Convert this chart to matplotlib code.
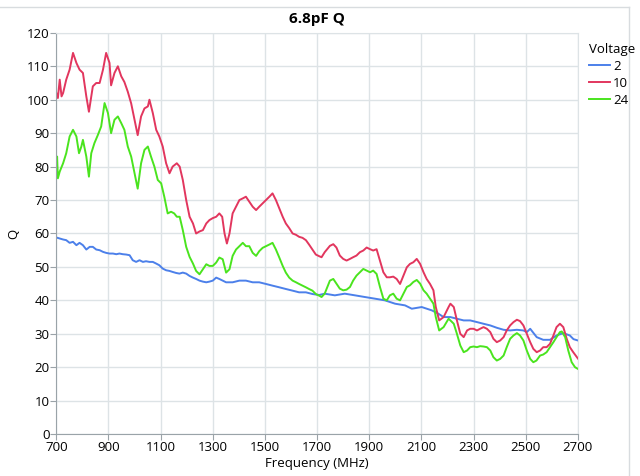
import matplotlib.pyplot as plt
from matplotlib.lines import Line2D

# frequency (MHz) / Q values
freq_2 = [700, 713, 726, 738, 751, 764, 777, 789, 802, 815, 828, 840, 853, 866, 879,
          891, 904, 917, 930, 942, 955, 968, 981, 993, 1006, 1019, 1032, 1044, 1057,
          1070, 1083, 1095, 1108, 1121, 1134, 1146, 1159, 1172, 1185, 1198, 1211,
          1224, 1236, 1249, 1262, 1275, 1287, 1300, 1313, 1325, 1351, 1376, 1402,
          1427, 1453, 1478, 1504, 1529, 1555, 1580, 1606, 1631, 1657, 1682, 1708,
          1729, 1768, 1806, 1845, 1883, 1922, 1960, 1999, 2037, 2063, 2101, 2140,
          2165, 2185, 2211, 2236, 2262, 2287, 2313, 2338, 2364, 2389, 2415, 2440,
          2466, 2491, 2504, 2517, 2542, 2567, 2593, 2618, 2644, 2669, 2683, 2700]
q_2 = [58.8, 58.5, 58.2, 58.0, 57.2, 57.5, 56.5, 57.2, 56.5, 55.2, 56.0, 56.0, 55.2,
       55.0, 54.5, 54.2, 54.0, 54.0, 53.8, 54.0, 53.8, 53.7, 53.5, 52.0, 51.5, 52.0,
       51.5, 51.7, 51.5, 51.5, 51.0, 50.5, 49.5, 49.0, 48.8, 48.5, 48.2, 48.0, 48.3,
       48.0, 47.3, 46.8, 46.4, 45.9, 45.6, 45.4, 45.6, 45.9, 46.8, 46.4, 45.4, 45.4,
       45.9, 45.9, 45.4, 45.4, 44.9, 44.4, 43.9, 43.4, 42.9, 42.4, 42.4, 41.9, 41.6,
       42.0, 41.5, 42.0, 41.5, 41.0, 40.5, 40.0, 39.0, 38.5, 37.5, 38.0, 37.0, 36.0,
       35.0, 35.0, 34.5, 34.0, 34.0, 33.5, 33.0, 32.5, 31.8, 31.2, 31.0, 31.2, 31.0,
       30.5, 31.5, 29.0, 28.2, 28.2, 29.5, 30.2, 29.5, 28.4, 28.0]

freq_10 = [700, 706, 713, 720, 726, 738, 751, 764, 777, 789, 802, 815, 825, 840, 853,
           866, 879, 891, 904, 910, 923, 936, 949, 961, 974, 987, 1000, 1012, 1025,
           1038, 1051, 1057, 1070, 1083, 1095, 1108, 1121, 1134, 1146, 1162, 1173,
           1185, 1198, 1211, 1224, 1236, 1249, 1262, 1275, 1287, 1300, 1313, 1325,
           1336, 1345, 1354, 1364, 1376, 1389, 1402, 1415, 1427, 1440, 1453, 1466,
           1478, 1491, 1504, 1517, 1529, 1542, 1555, 1568, 1580, 1593, 1606, 1619,
           1631, 1644, 1657, 1669, 1682, 1695, 1708, 1717, 1729, 1749, 1762, 1774,
           1787, 1800, 1813, 1826, 1838, 1851, 1864, 1877, 1890, 1903, 1915, 1928,
           1941, 1954, 1967, 1979, 1992, 2005, 2018, 2031, 2044, 2056, 2069, 2082,
           2095, 2108, 2120, 2133, 2146, 2155, 2168, 2185, 2204, 2211, 2224, 2236,
           2249, 2262, 2275, 2287, 2300, 2313, 2325, 2338, 2351, 2364, 2376, 2389,
           2402, 2415, 2427, 2440, 2453, 2466, 2478, 2491, 2504, 2517, 2529, 2542,
           2555, 2567, 2580, 2593, 2606, 2618, 2631, 2644, 2657, 2669, 2682, 2700]
q_10 = [102.0, 100.5, 106.0, 101.0, 102.0, 106.0, 109.0, 114.0, 111.0, 109.0, 108.0,
        101.0, 96.4, 104.0, 105.0, 105.0, 109.0, 114.0, 111.0, 104.3, 108.0, 110.0,
        107.0, 105.3, 102.4, 98.9, 94.0, 89.4, 95.0, 97.4, 98.0, 100.0, 96.0, 91.0,
        89.0, 86.0, 81.0, 78.0, 80.0, 81.0, 80.0, 76.0, 70.0, 65.0, 63.0, 60.0, 60.6,
        61.0, 63.0, 64.0, 64.6, 65.0, 66.0, 65.0, 60.0, 57.0, 60.0, 66.0, 68.0, 70.0,
        70.5, 71.0, 69.5, 68.0, 67.0, 68.0, 69.0, 70.0, 71.0, 72.0, 70.0, 67.5, 65.0,
        63.0, 61.6, 60.0, 59.6, 59.0, 58.7, 58.0, 56.7, 55.2, 53.7, 53.2, 52.9, 54.4,
        56.3, 56.8, 55.8, 53.4, 52.4, 51.9, 52.4, 52.9, 53.4, 54.4, 54.9, 55.8, 55.3,
        54.9, 55.3, 51.9, 48.4, 46.9, 46.9, 47.1, 46.4, 44.9, 47.4, 49.9, 50.9, 51.4,
        52.4, 50.9, 48.4, 46.4, 44.9, 43.0, 38.0, 34.0, 35.0, 38.0, 39.0, 38.0, 34.0,
        30.0, 29.0, 31.0, 31.5, 31.5, 31.0, 31.5, 32.0, 31.5, 30.5, 28.5, 27.5, 28.0,
        29.0, 31.0, 32.5, 33.5, 34.2, 33.8, 32.5, 30.0, 27.5, 25.5, 24.5, 25.0, 26.0,
        26.0, 27.0, 29.5, 32.0, 33.0, 32.0, 28.5, 26.0, 24.5, 22.6]

freq_24 = [700, 703, 706, 713, 726, 738, 751, 764, 777, 787, 796, 802, 815, 825, 834,
           846, 859, 872, 885, 898, 910, 923, 936, 949, 961, 974, 987, 1000, 1012,
           1025, 1038, 1051, 1063, 1076, 1089, 1102, 1114, 1127, 1140, 1152, 1162,
           1173, 1185, 1198, 1211, 1224, 1236, 1249, 1262, 1275, 1287, 1300, 1313,
           1325, 1338, 1351, 1364, 1376, 1389, 1402, 1415, 1427, 1440, 1453, 1466,
           1478, 1491, 1504, 1517, 1529, 1542, 1555, 1568, 1580, 1593, 1606, 1619,
           1631, 1644, 1657, 1669, 1682, 1695, 1708, 1717, 1729, 1749, 1762, 1774,
           1787, 1800, 1813, 1826, 1838, 1851, 1864, 1877, 1890, 1903, 1915, 1928,
           1941, 1954, 1967, 1979, 1992, 2005, 2018, 2031, 2044, 2056, 2069, 2082,
           2095, 2108, 2120, 2133, 2146, 2155, 2168, 2185, 2204, 2211, 2224, 2236,
           2249, 2262, 2275, 2287, 2300, 2313, 2325, 2338, 2351, 2364, 2376, 2389,
           2402, 2415, 2427, 2440, 2453, 2466, 2478, 2491, 2504, 2517, 2529, 2541,
           2555, 2567, 2580, 2593, 2606, 2618, 2631, 2638, 2651, 2663, 2676, 2689, 2700]
q_24 = [79.0, 83.0, 76.5, 78.5, 81.0, 84.0, 89.0, 91.0, 89.0, 84.0, 86.0, 88.0, 83.0,
        77.0, 84.0, 87.0, 89.4, 92.0, 99.0, 96.0, 90.0, 94.0, 95.0, 93.0, 91.0, 86.0,
        83.0, 78.0, 73.4, 81.0, 85.0, 86.0, 83.0, 80.0, 76.0, 75.0, 71.0, 66.0, 66.5,
        66.0, 65.0, 65.0, 61.0, 56.0, 53.0, 51.0, 48.8, 47.8, 49.3, 50.8, 50.3, 50.3,
        51.3, 52.8, 52.3, 48.3, 49.3, 53.3, 55.2, 56.2, 57.2, 56.2, 56.2, 54.2, 53.3,
        54.7, 55.7, 56.2, 56.7, 57.2, 55.2, 52.8, 50.3, 48.3, 46.8, 45.9, 45.4, 44.9,
        44.4, 43.9, 43.4, 42.9, 41.9, 41.4, 41.0, 42.0, 45.9, 46.4, 45.0, 43.5, 43.0,
        43.2, 44.0, 45.9, 47.4, 48.4, 49.4, 48.9, 48.4, 48.9, 47.9, 44.0, 40.5, 40.0,
        41.5, 42.0, 40.5, 40.0, 42.0, 44.0, 44.5, 45.5, 46.1, 45.0, 43.0, 42.0, 40.5,
        39.0, 35.0, 31.0, 32.0, 34.5, 34.0, 33.0, 30.0, 26.5, 24.5, 25.0, 26.0, 26.2,
        26.0, 26.3, 26.2, 26.0, 25.0, 23.0, 22.0, 22.5, 23.5, 26.0, 28.5, 29.5, 30.2,
        29.5, 28.0, 25.0, 22.5, 21.5, 22.0, 23.5, 23.8, 24.5, 26.0, 27.5, 29.0, 30.5,
        30.7, 29.0, 25.0, 21.5, 20.0, 19.5]

series = [("2", freq_2, q_2, "#4C80EA"),
          ("10", freq_10, q_10, "#E2365E"),
          ("24", freq_24, q_24, "#4AE41E")]

plt.rcParams['font.family'] = ['Open Sans', 'DejaVu Sans']

fig = plt.figure(figsize=(6.4, 4.76), dpi=100)
ax = fig.add_axes([0.088, 0.088, 0.815, 0.843])

for name, f, q, c in series:
    ax.plot(f, q, color=c, lw=1.4, label=name)

ax.set_xlim(700, 2700)
ax.set_ylim(0, 120)
ax.set_xticks(range(700, 2701, 200))
ax.set_yticks(range(0, 121, 10))
ax.grid(True, color="#DDE3E6", lw=1)
ax.set_axisbelow(True)
for s in ["top", "right"]:
    ax.spines[s].set_color("#DDE3E6")
for s in ["left", "bottom"]:
    ax.spines[s].set_color("#9AA3A8")
ax.tick_params(labelsize=9.5, color="#9AA3A8", length=4, pad=1)

ax.set_title("6.8pF Q", fontsize=11, fontweight="bold", pad=7)
ax.set_xlabel("Frequency (MHz)", fontsize=9.5, labelpad=2)
ax.set_ylabel("Q", fontsize=9.5)
ax.yaxis.set_label_coords(-0.07, 0.5)

leg = fig.legend(title="Voltage", loc="upper left", bbox_to_anchor=(0.902, 0.935),
                 frameon=False, fontsize=9.5, title_fontsize=9.5,
                 handlelength=1.6, handletextpad=0.2, labelspacing=0.3)
leg._legend_box.align = "left"

# panel frame of the screenshot
fig.add_artist(Line2D([0, 0.983], [0.985, 0.985], color="#D8DCDF", lw=1))
fig.add_artist(Line2D([0.983, 0.983], [0, 0.985], color="#D8DCDF", lw=1))

fig.savefig("out.png", dpi=100)
